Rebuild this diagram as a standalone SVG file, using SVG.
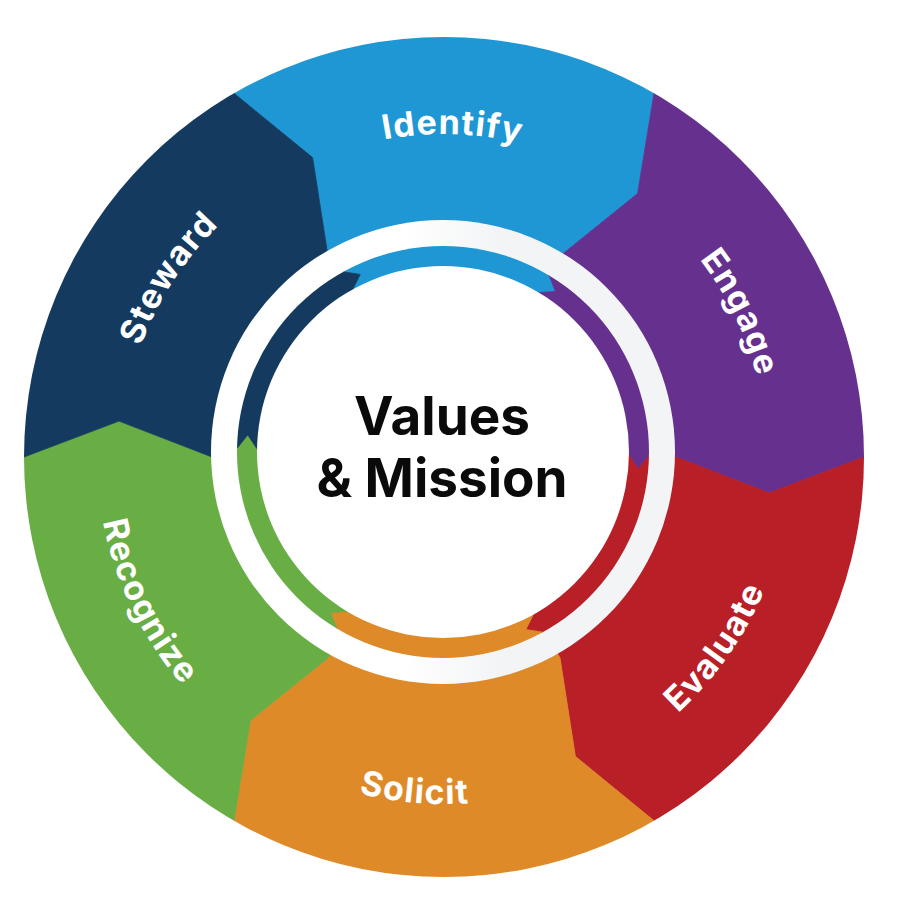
<svg xmlns="http://www.w3.org/2000/svg" width="900" height="915" viewBox="0 0 900 915">
  <style>
    .blue{fill:#1E97D4;stroke:#1E97D4}
    .purple{fill:#66308F;stroke:#66308F}
    .red{fill:#B81F27;stroke:#B81F27}
    .orange{fill:#DE8A29;stroke:#DE8A29}
    .green{fill:#69AD45;stroke:#69AD45}
    .navy{fill:#143B5F;stroke:#143B5F}
    polygon{stroke-width:0.8;stroke-linejoin:round}
    .lbl{font-family:Inter,"Open Sans","Liberation Sans",sans-serif;font-weight:700;font-size:34px;fill:#FFFFFF;letter-spacing:1.2px}
    .center{font-family:Inter,"Open Sans","Liberation Sans",sans-serif;font-weight:700;font-size:53px;fill:#0A0A0A;text-anchor:middle}
  </style>
  <defs>
    <clipPath id="outerClip"><circle cx="444" cy="457" r="420"/></clipPath>
    <clipPath id="innerClip"><circle cx="443" cy="452" r="206"/></clipPath>
    <linearGradient id="ringGrad" gradientUnits="userSpaceOnUse" x1="405" y1="0" x2="500" y2="0">
      <stop offset="0" stop-color="#FFFFFF"/>
      <stop offset="1" stop-color="#F3F4F6"/>
    </linearGradient>
    <path id="pIdentify" d="M221.7,222.7 A323,323 0 0 1 678.3,234.7"/>
    <path id="pEngage" d="M549.2,151.6 A323,323 0 0 1 749.4,562.2"/>
    <path id="pSteward" d="M128.1,524.2 A323,323 0 0 1 376.8,141.1"/>
    <path id="pEvaluate" d="M504.3,798.7 A347,347 0 0 0 785.7,396.7"/>
    <path id="pSolicit" d="M178.2,680.1 A347,347 0 0 0 667.1,722.8"/>
    <path id="pRecognize" d="M115.9,344.0 A347,347 0 0 0 331.0,785.1"/>
  </defs>

  <g id="identify">
    <polygon class="blue" clip-path="url(#outerClip)" points="444,457 328,256.1 312.6,157.6 234,93.3 144,-62.6 444,-243 744,-62.6 654,93.3 637.6,193.5 560,256.1"/>
    <text class="lbl"><textPath href="#pIdentify" startOffset="50%" text-anchor="middle">Identify</textPath></text>
  </g>
  <g id="engage">
    <polygon class="purple" clip-path="url(#outerClip)" points="444,457 560,256.1 637.6,193.5 654,93.3 744,-62.6 1050.2,107 1044,457 864,457 769,492.9 676,457"/>
    <text class="lbl"><textPath href="#pEngage" startOffset="50%" text-anchor="middle">Engage</textPath></text>
  </g>
  <g id="evaluate">
    <polygon class="red" clip-path="url(#outerClip)" points="444,457 676,457 769,492.9 864,457 1044,457 1050.2,807 744,976.6 654,820.7 575.4,756.4 560,657.9"/>
    <text class="lbl"><textPath href="#pEvaluate" startOffset="50%" text-anchor="middle">Evaluate</textPath></text>
  </g>
  <g id="solicit">
    <polygon class="orange" clip-path="url(#outerClip)" points="444,457 560,657.9 575.4,756.4 654,820.7 744,976.6 444,1157 144,976.6 234,820.7 250.4,720.5 328,657.9"/>
    <text class="lbl"><textPath href="#pSolicit" startOffset="50%" text-anchor="middle">Solicit</textPath></text>
  </g>
  <g id="recognize">
    <polygon class="green" clip-path="url(#outerClip)" points="444,457 328,657.9 250.4,720.5 234,820.7 144,976.6 -162.2,807 -156,457 24,457 119,421.1 212,457"/>
    <text class="lbl"><textPath href="#pRecognize" startOffset="50%" text-anchor="middle">Recognize</textPath></text>
  </g>
  <g id="steward">
    <polygon class="navy" clip-path="url(#outerClip)" points="444,457 212,457 119,421.1 24,457 -156,457 -162.2,107 144,-62.6 234,93.3 312.6,157.6 328,256.1"/>
    <text class="lbl"><textPath href="#pSteward" startOffset="50%" text-anchor="middle">Steward</textPath></text>
  </g>

  <circle id="white-ring" cx="443" cy="452" r="232" fill="url(#ringGrad)"/>

  <g id="connectors" clip-path="url(#innerClip)">
    <polygon class="blue" points="443,452 352.8,289.3 360.2,274.4 343.1,271.8 317.0,224.6 448.2,152 576.9,229.1 549.1,275.4 555.4,291.4 538.8,292.6"/>
    <polygon class="purple" points="443,452 538.8,292.6 555.4,291.4 549.1,275.4 576.9,229.1 705.4,306.6 703.0,456.5 648.97,455.6 638.3,469.1 628.97,455.2"/>
    <polygon class="red" points="443,452 628.97,455.2 638.3,469.1 648.97,455.6 703.0,456.5 700.2,606.5 569.0,679.4 542.9,632.2 525.8,629.6 533.2,614.7"/>
    <polygon class="orange" points="443,452 533.2,614.7 525.8,629.6 542.9,632.2 569.0,679.4 437.8,752.0 309.1,674.9 336.9,628.6 330.6,612.6 347.2,611.4"/>
    <polygon class="green" points="443,452 347.2,611.4 330.6,612.6 336.9,628.6 309.1,674.9 180.6,597.4 183.0,447.5 237.0,448.4 247.7,434.9 257.0,448.8"/>
    <polygon class="navy" points="443,452 257.0,448.8 247.7,434.9 237.0,448.4 183.0,447.5 185.8,297.5 317.0,224.6 343.1,271.8 360.2,274.4 352.8,289.3"/>
  </g>

  <g id="values-mission">
    <circle cx="443" cy="452" r="186" fill="#FFFFFF"/>
    <text class="center" x="442" y="435">Values</text>
    <text class="center" x="442" y="497">&amp; Mission</text>
  </g>
</svg>
